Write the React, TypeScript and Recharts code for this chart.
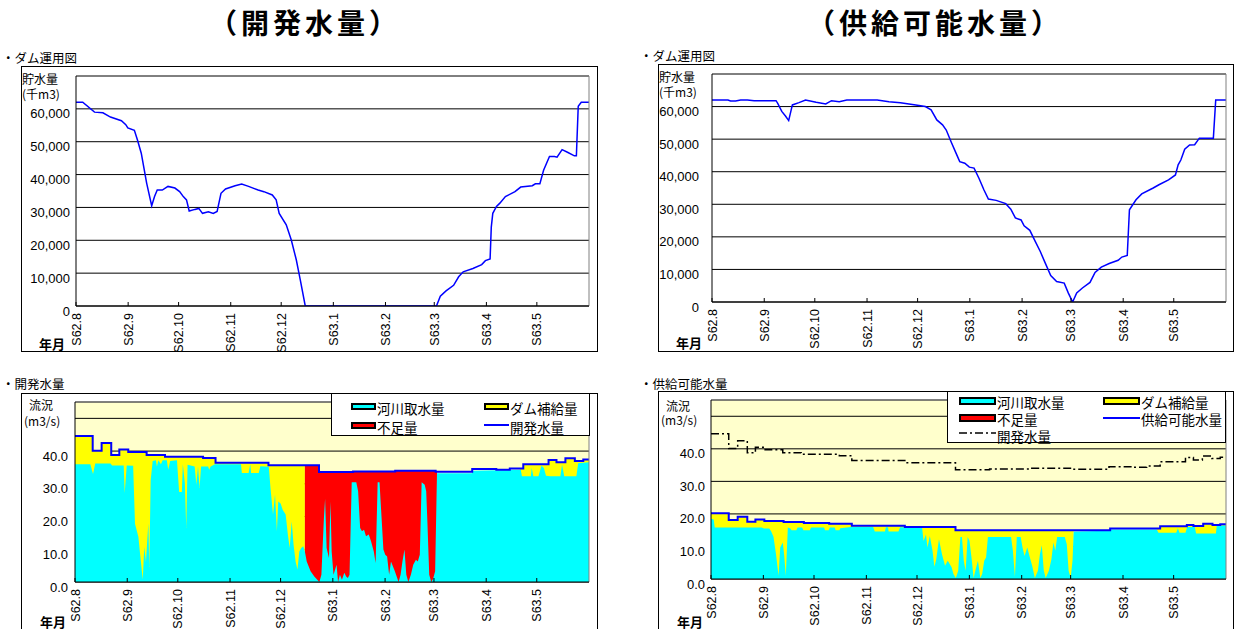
import React from "react";
import { ComposedChart, Line, Area, XAxis, YAxis, CartesianGrid, ReferenceLine } from "recharts";

const FONT = '"Liberation Sans", "Noto Sans CJK JP", sans-serif';
const JP = '"Noto Sans CJK JP", sans-serif';

type Pt = [number, number];

// 日数は S62.8.1 からの経過日数
const monthTicks = [0, 31, 61, 92, 122, 153, 184, 213, 244, 274];
const monthLabels = ["S62.8", "S62.9", "S62.10", "S62.11", "S62.12", "S63.1", "S63.2", "S63.3", "S63.4", "S63.5"];
const storageTicks = [0, 10000, 20000, 30000, 40000, 50000, 60000];
const flowTicks = [0, 10, 20, 30, 40, 50];

// 貯水量 (千m3) 開発水量ケース
const devStorage: Pt[] = [
  [0, 62000], [4, 62000], [11, 59000], [16, 58800], [20.5, 57500], [27, 56400], [29.6, 55200], [30.8, 54200],
  [34.7, 53500], [36.5, 50600], [38.8, 46500], [42, 37400], [45, 30500], [46.7, 33300], [48.3, 35300],
  [51.3, 35300], [54.7, 36400], [58.8, 35900], [61.6, 34800], [63.8, 33300], [65.7, 32300], [67.3, 28900],
  [70.7, 29400], [73, 29700], [75.2, 28200], [78.7, 28700], [81.6, 28200], [83.9, 28800], [86.2, 34300],
  [88.9, 35600], [94.6, 36600], [98.5, 37100], [102.6, 36400], [108.3, 35300], [111.7, 34800], [116.7, 33800],
  [119, 32300], [120.8, 28200], [125, 24700], [128, 20100], [131, 14000], [133.4, 7800], [136.3, 0],
  [214.3, 0], [216.6, 3000], [220, 4600], [224.5, 6300], [227.5, 8900], [230.2, 10400], [236, 11400],
  [241.2, 12600], [243.4, 13800], [246.2, 14300], [246.9, 24000], [247.8, 28200], [250, 30300], [252, 31300],
  [255.3, 33300], [261, 34800], [264.4, 36200], [271.3, 36600], [273.1, 37200], [275.8, 37200], [278, 41300],
  [281.5, 45500], [284.5, 45500], [286, 45300], [289, 47600], [292.2, 46800], [296.3, 45700], [297.5, 45700],
  [298.6, 60800], [300.4, 62000], [305, 62000],
];

// 貯水量 (千m3) 供給可能水量ケース
const supStorage: Pt[] = [
  [0, 62000], [9.5, 62000], [11, 61700], [14, 61700], [17, 62000], [21, 62000], [25, 61800], [38, 61800],
  [39, 61000], [41.4, 58500], [43.6, 57100], [45.5, 55700], [47.7, 60500], [51.6, 61200], [55.5, 62000],
  [61.8, 61300], [67.5, 60800], [70.9, 61800], [75.5, 61500], [80, 62000], [98, 62000], [105, 61500],
  [111.8, 61200], [120.9, 60500], [126.6, 60000], [130, 59000], [133.4, 55900], [136.8, 54400], [139, 52800],
  [141.8, 49300], [144.8, 45700], [147, 43100], [150, 42600], [152.7, 41400], [155.5, 41100], [158.4, 38000],
  [161.4, 34400], [164, 31600], [168.6, 31200], [174.3, 30200], [177.3, 28500], [180, 25800], [183.4, 25200],
  [185.2, 23400], [188.6, 22000], [191.8, 18600], [194.8, 15500], [197.7, 12000], [201, 8100], [204.5, 6300],
  [209, 5800], [211.4, 2800], [214, 0], [216.4, 2800], [219.8, 4300], [224.3, 6000], [227.3, 9100],
  [231, 10700], [235.7, 11800], [241, 12800], [243.2, 13800], [246.4, 14300], [247.7, 28300], [251.6, 31400],
  [255, 33200], [261.8, 35000], [265.2, 36000], [270.9, 37500], [275, 39000], [276.6, 42100], [278.2, 43600],
  [280.5, 46900], [283.4, 48200], [286.4, 48300], [289.2, 50300], [297.5, 50300], [298.9, 62000], [305, 62000],
];

// 開発水量 (m3/s) 階段状
const developFlow: Pt[] = [
  [0, 44.6], [10.5, 40.1], [15.8, 42.5], [21.5, 38.8], [26.3, 40.5], [31.6, 39.7], [42.5, 38.8], [53.4, 38.3],
  [76, 37.9], [83.4, 36.4], [114.8, 35.7], [144.8, 33.6], [165, 33.8], [190, 34.0], [214, 33.7], [235.7, 34.5],
  [250, 34.3], [258, 34.7], [266, 36.0], [281, 37.3], [285.7, 36.6], [291, 37.8], [296.6, 37.0], [301.6, 37.4],
  [305, 37.4],
];

// 供給可能水量 (m3/s)
const supplyFlow: Pt[] = [
  [0, 20.2], [10.5, 18.1], [15.8, 19.1], [21.5, 17.6], [26.3, 18.3], [31.6, 17.8], [43, 17.5], [55, 17.2],
  [70, 17.0], [83.4, 16.4], [114.8, 16.0], [144.8, 15.0], [236.4, 15.5], [266, 16.2], [281.8, 16.6],
  [285.7, 16.3], [291.5, 17.0], [297, 16.6], [301.6, 16.8], [305, 16.8],
];

// 河川取水量 (m3/s) 開発水量ケース
const devRiver: Pt[] = [
  [0, 36.0], [9.1, 36.0], [10.7, 33.0], [12, 36.2], [21.1, 36.2], [22, 35.6], [28.9, 35.6], [29.5, 27.2],
  [30.7, 35.6], [34.5, 35.5], [35.6, 17.8], [37.6, 13.8], [38.6, 8.7], [40.2, 0.8], [41.1, 10.7], [42.1, 6.1],
  [43.5, 17.9], [44.1, 4.6], [44.9, 31.1], [46.1, 37.0], [48, 37.2], [48.6, 35.3], [49.5, 37.2], [51, 36.0],
  [52, 37.2], [54.5, 37.2], [55.3, 34.3], [56.5, 37.0], [60.5, 37.2], [61.8, 27.5], [63.4, 27.5], [64, 36.0],
  [65.2, 30.0], [66, 16.5], [66.8, 35.8], [71, 35.3], [72, 29.7], [73, 35.3], [73.9, 28.7], [74.8, 35.3],
  [79, 35.3], [79.6, 34.3], [80.5, 35.3], [83, 36.0], [98.5, 36.0], [99, 33.3], [103, 33.3], [104, 36.0],
  [104.5, 33.3], [109, 33.3], [110, 35.4], [115, 35.2], [116, 28.7], [117.5, 20.6], [118.7, 26.7], [119.8, 15.5],
  [120.6, 24.6], [122, 24.0], [123.3, 22.0], [125, 20.6], [126.3, 14.5], [127.4, 10.4], [128.6, 18.5],
  [129.7, 11.4], [130.9, 6.3], [132, 3.8], [133.1, 9.3], [134.2, 10.4], [135.4, 10.9], [136.4, 9.3],
  [137.5, 6.3], [139.8, 3.3], [142, 1.7], [145, 0], [146.2, 2.2], [147.7, 19.5], [148.4, 25.4], [149.3, 10.4],
  [150.7, 7.3], [151.6, 24.6], [152.3, 9.3], [153.4, 2.2], [155.2, 5.3], [156.1, 0], [157.2, 2.2], [158.4, 0.7],
  [159.8, 2.8], [160.9, 1.7], [161.9, 1.2], [162.9, 2.2], [164.2, 30.5], [166.9, 30.5], [168, 27.7],
  [169.2, 16.5], [170.3, 15.5], [171.5, 16.0], [172.7, 14.0], [174.3, 14.5], [175.7, 12.4], [177.3, 9.3],
  [178.4, 5.8], [179.6, 30.5], [180.7, 30.5], [181.8, 20.6], [183, 9.9], [184.1, 8.3], [185.2, 7.8],
  [186.4, 2.2], [187.5, 6.3], [189.8, 3.3], [192, 0], [193.2, 2.2], [194.3, 6.3], [195.5, 9.9], [196.6, 2.2],
  [197.8, 0], [199.3, 2.2], [200.7, 5.3], [202.3, 6.8], [203.4, 6.3], [204.6, 8.3], [205.7, 30.5],
  [207.5, 29.7], [208.4, 27.7], [209.1, 18.5], [210.2, 2.2], [211.4, 0], [212.5, 1.0], [213.7, 3.3],
  [214.8, 33.2], [235.5, 33.2], [236, 34.0], [264.5, 34.3], [265.2, 32.3], [270.5, 32.3], [271, 34.8],
  [272, 32.3], [275, 32.3], [276.8, 35.5], [278.2, 34.8], [279.5, 32.5], [282, 32.3], [288, 32.3], [289, 35.8],
  [290.3, 32.3], [297.5, 32.3], [298.6, 36.3], [305, 36.6],
];

// 河川取水量 (m3/s) 供給可能水量ケース
const supRiver: Pt[] = [
  [0, 18.5], [1.6, 18.3], [2.2, 15.8], [30, 15.8], [31.4, 15.5], [34.5, 15.5], [35.6, 14.7], [37, 13.0],
  [38.5, 7.6], [40, 1.0], [41, 9.7], [42.5, 11.2], [43.3, 7.6], [44.3, 1.0], [45.5, 15.8], [47, 15.5],
  [47.7, 15.0], [50.5, 15.0], [51.3, 15.8], [54, 15.8], [54.7, 15.0], [58.5, 15.0], [59.3, 15.8], [67, 15.8],
  [67.5, 15.0], [69.7, 15.0], [70.4, 15.8], [73.3, 15.8], [73.8, 15.0], [76, 15.0], [76.6, 15.6], [82.7, 16.0],
  [96, 16.0], [97, 14.6], [103, 14.6], [103.6, 15.9], [104.8, 15.9], [105.2, 14.6], [111, 14.6], [112, 15.9],
  [125, 15.8], [125.9, 11.7], [127.3, 13.7], [128.2, 9.7], [129.6, 13.2], [131.2, 8.7], [132.3, 3.8],
  [133.4, 6.1], [135, 12.2], [136.8, 7.6], [138.6, 4.1], [140.2, 5.6], [142.5, 3.6], [143.6, 1.5], [145, 0.3],
  [146.4, 2.5], [147.7, 12.9], [148.6, 12.9], [149.7, 5.6], [150.8, 2.5], [152, 12.9], [153.1, 11.7],
  [154.5, 5.6], [155.5, 0.3], [156.8, 3.1], [158.1, 5.6], [159.5, 0.3], [160.6, 1.5], [161.8, 5.6],
  [162.9, 6.6], [164, 12.9], [177.7, 12.9], [178.8, 8.7], [180, 0.7], [181.1, 12.9], [183.4, 12.9],
  [184.5, 9.7], [185.7, 7.1], [187.3, 9.7], [188.6, 7.1], [190.2, 4.1], [191.8, 0.3], [193.6, 2.5],
  [194.8, 7.6], [195.9, 10.4], [197.1, 2.5], [198.2, 0.3], [200.1, 2.5], [201.6, 6.1], [202.8, 11.2],
  [203.9, 8.7], [205, 12.9], [209.5, 12.9], [210.7, 10.7], [211.8, 2.5], [213, 0.3], [214.1, 5.6],
  [214.8, 14.6], [236, 14.8], [236.5, 15.2], [264, 15.2], [265, 14.2], [275.5, 14.2], [276.5, 15.6],
  [277.5, 14.2], [281, 14.2], [282, 16.0], [286.5, 16.0], [287.3, 14.0], [299, 14.0], [299.5, 16.3], [305, 16.5],
];

// ダム補給・不足の期間 (日)
const devDamPeriods = [[0, 136.4], [264, 305]];
const devShortPeriods = [[136.4, 214.8]];
const supDamPeriods = [[0, 214.8], [264, 305]];

const rows = (pts: Pt[]) => pts.map(([day, v]) => ({ day, v }));
const stepValue = (pts: Pt[], d: number) => {
  let v = pts[0][1];
  for (const [x, y] of pts) if (x <= d) v = y;
  return v;
};
const clipSteps = (pts: Pt[], [a, b]: number[]) =>
  rows([[a, stepValue(pts, a)], ...pts.filter(([x]) => x > a && x < b), [b, stepValue(pts, b)]]);

function MonthTick(props: any) {
  const { x, y, payload } = props;
  const label = monthLabels[monthTicks.indexOf(payload.value)];
  return (
    <g>
      <line x1={x} x2={x} y1={y} y2={y - 4} stroke="#000" />
      <text x={x} y={y + 7} dy={4.5} textAnchor="end" transform={`rotate(-90 ${x} ${y + 7})`}
        fontSize={12.5} fontFamily={FONT} fill="#000">{label}</text>
    </g>
  );
}

function ValueTick(props: any) {
  const { x, y, payload, digits, labelMax } = props;
  const v = payload.value as number;
  if (v > labelMax) return <g />;
  const text = digits ? v.toFixed(1) : v.toLocaleString("en-US");
  return (
    <text x={x} y={y + 5} dy={4.5} textAnchor="end" fontSize={13} fontFamily={FONT} fill="#000">{text}</text>
  );
}

function Label({ x, y, size = 12, bold = false, children }: any) {
  return (
    <div style={{ position: "absolute", left: x, top: y, fontSize: size, lineHeight: 1, fontFamily: JP,
      whiteSpace: "nowrap", fontWeight: bold ? 700 : 400, color: "#000" }}>{children}</div>
  );
}

function Frame({ left, top, width, height, axisW, mTop, mRight, xH, yMax, yTicks, labelMax, digits, gap, bg, children, extras }: any) {
  return (
    <div style={{ position: "absolute", left, top, width, height, border: "1px solid #000",
      boxSizing: "border-box", overflow: "hidden", background: "#fff" }}>
      <ComposedChart width={width - 2} height={height - 2} margin={{ top: mTop, right: mRight, bottom: 0, left: 0 }}>
        <CartesianGrid vertical={false} stroke="#000" fill={bg} fillOpacity={1} />
        <XAxis type="number" dataKey="day" domain={[0, 305]} ticks={monthTicks} interval={0} height={xH}
          tickSize={0} tickMargin={0} tickLine={false} axisLine={{ stroke: "#000" }} tick={<MonthTick />} allowDataOverflow />
        <YAxis type="number" domain={[0, yMax]} ticks={yTicks} interval={0} width={axisW} tickSize={0}
          tickMargin={gap} tickLine={false} axisLine={{ stroke: "#000" }}
          tick={<ValueTick digits={digits} labelMax={labelMax} />} allowDataOverflow />
        {children}
        <ReferenceLine y={yMax} stroke="#808080" />
        <ReferenceLine x={305} stroke="#808080" />
      </ComposedChart>
      {extras}
    </div>
  );
}

function Swatch({ x, y, w, h, color }: any) {
  return <div style={{ position: "absolute", left: x, top: y, width: w, height: h, background: color,
    border: "2px solid #000", boxSizing: "border-box" }} />;
}

export default function App() {
  return (
    <div style={{ position: "absolute", left: 0, top: 0, width: 1239, height: 629, overflow: "hidden", background: "#fff" }}>
      <div style={{ position: "absolute", left: 5, top: 8, width: 600, textAlign: "center", fontSize: 28, lineHeight: 1,
        fontFamily: JP, fontWeight: 700, letterSpacing: 4 }}>（開発水量）</div>
      <div style={{ position: "absolute", left: 635, top: 8, width: 600, textAlign: "center", fontSize: 28, lineHeight: 1,
        fontFamily: JP, fontWeight: 700, letterSpacing: 4 }}>（供給可能水量）</div>

      <Label x={2} y={52} size={12.5}>・ダム運用図</Label>
      <Label x={640} y={50} size={12.5}>・ダム運用図</Label>
      <Label x={2} y={378} size={12.5}>・開発水量</Label>
      <Label x={640} y={378} size={12.5}>・供給可能水量</Label>

      {/* 貯水量 開発水量ケース */}
      <Frame left={21} top={66} width={577} height={286} axisW={54} mTop={9} mRight={8} xH={45}
        yMax={70000} yTicks={storageTicks} labelMax={60000} gap={6} bg="#fff"
        extras={<>
          <Label x={0} y={6}>貯水量</Label>
          <Label x={0} y={21}>(千m3)</Label>
          <Label x={17} y={270} size={13} bold>年月</Label>
        </>}>
        <Line data={rows(devStorage)} dataKey="v" type="linear" stroke="#0000ff" strokeWidth={1.5} dot={false} isAnimationActive={false} />
      </Frame>

      {/* 貯水量 供給可能水量ケース */}
      <Frame left={658} top={64} width={576} height={288} axisW={53} mTop={9} mRight={7} xH={49}
        yMax={70000} yTicks={storageTicks} labelMax={60000} gap={13} bg="#fff"
        extras={<>
          <Label x={0} y={6}>貯水量</Label>
          <Label x={0} y={21}>(千m3)</Label>
          <Label x={17} y={271} size={13} bold>年月</Label>
        </>}>
        <Line data={rows(supStorage)} dataKey="v" type="linear" stroke="#0000ff" strokeWidth={1.5} dot={false} isAnimationActive={false} />
      </Frame>

      {/* 流況 開発水量ケース */}
      <Frame left={21} top={393} width={577} height={240} axisW={53} mTop={8} mRight={8} xH={50}
        yMax={55} yTicks={flowTicks} labelMax={40} digits gap={7} bg="#ffffcc"
        extras={<>
          <Label x={7} y={5}>流況</Label>
          <Label x={2} y={21}>(m3/s)</Label>
          <Label x={18} y={221} size={13} bold>年月</Label>
        </>}>
        {devDamPeriods.map((p, i) => (
          <Area key={"dd" + i} data={clipSteps(developFlow, p)} dataKey="v" type="stepAfter" fill="#ffff00"
            fillOpacity={1} stroke="none" isAnimationActive={false} />
        ))}
        {devShortPeriods.map((p, i) => (
          <Area key={"ds" + i} data={clipSteps(developFlow, p)} dataKey="v" type="stepAfter" fill="#ff0000"
            fillOpacity={1} stroke="none" isAnimationActive={false} />
        ))}
        <Area data={rows(devRiver)} dataKey="v" type="linear" fill="#00ffff" fillOpacity={1} stroke="none" isAnimationActive={false} />
        <Line data={rows(developFlow)} dataKey="v" type="stepAfter" stroke="#0000ff" strokeWidth={2} dot={false} isAnimationActive={false} />
      </Frame>

      {/* 流況 供給可能水量ケース */}
      <Frame left={658} top={391} width={576} height={242} axisW={52} mTop={8} mRight={7} xH={53}
        yMax={55} yTicks={flowTicks} labelMax={40} digits gap={6} bg="#ffffcc"
        extras={<>
          <Label x={7} y={8}>流況</Label>
          <Label x={2} y={22}>(m3/s)</Label>
          <Label x={18} y={223} size={13} bold>年月</Label>
        </>}>
        {supDamPeriods.map((p, i) => (
          <Area key={"sd" + i} data={clipSteps(supplyFlow, p)} dataKey="v" type="stepAfter" fill="#ffff00"
            fillOpacity={1} stroke="none" isAnimationActive={false} />
        ))}
        <Area data={rows(supRiver)} dataKey="v" type="linear" fill="#00ffff" fillOpacity={1} stroke="none" isAnimationActive={false} />
        <Line data={rows(supplyFlow)} dataKey="v" type="stepAfter" stroke="#0000ff" strokeWidth={2} dot={false} isAnimationActive={false} />
        <Line data={rows(developFlow)} dataKey="v" type="stepAfter" stroke="#000" strokeWidth={1.5} strokeDasharray="8 3 2 3"
          dot={false} isAnimationActive={false} />
      </Frame>

      {/* 凡例 開発水量 */}
      <div style={{ position: "absolute", left: 331, top: 393, width: 259, height: 43, border: "1px solid #000",
        boxSizing: "border-box", background: "#fff" }} />
      <Swatch x={351} y={403} w={25} h={7} color="#00ffff" />
      <Label x={377} y={401.5} size={13.5}>河川取水量</Label>
      <Swatch x={484} y={403} w={25} h={7} color="#ffff00" />
      <Label x={510} y={401.5} size={13.5}>ダム補給量</Label>
      <Swatch x={351} y={422} w={25} h={7} color="#ff0000" />
      <Label x={377} y={420.5} size={13.5}>不足量</Label>
      <div style={{ position: "absolute", left: 484, top: 424, width: 25, height: 1.5, background: "#0000ff" }} />
      <Label x={510} y={420.5} size={13.5}>開発水量</Label>

      {/* 凡例 供給可能水量 */}
      <div style={{ position: "absolute", left: 947, top: 391, width: 279, height: 52, border: "1px solid #000",
        boxSizing: "border-box", background: "#fff" }} />
      <Swatch x={959} y={397} w={37} h={8} color="#00ffff" />
      <Label x={997} y={396} size={13.5}>河川取水量</Label>
      <Swatch x={1103} y={397} w={37} h={8} color="#ffff00" />
      <Label x={1141} y={396} size={13.5}>ダム補給量</Label>
      <Swatch x={959} y={414} w={37} h={8} color="#ff0000" />
      <Label x={997} y={412.5} size={13.5}>不足量</Label>
      <div style={{ position: "absolute", left: 1103, top: 417, width: 37, height: 1.5, background: "#0000ff" }} />
      <Label x={1141} y={412.5} size={13.5}>供給可能水量</Label>
      <svg style={{ position: "absolute", left: 959, top: 430 }} width={37} height={6}>
        <line x1={0} x2={37} y1={3} y2={3} stroke="#000" strokeWidth={1.5} strokeDasharray="8 3 2 3" />
      </svg>
      <Label x={997} y={429.5} size={13.5}>開発水量</Label>
    </div>
  );
}
